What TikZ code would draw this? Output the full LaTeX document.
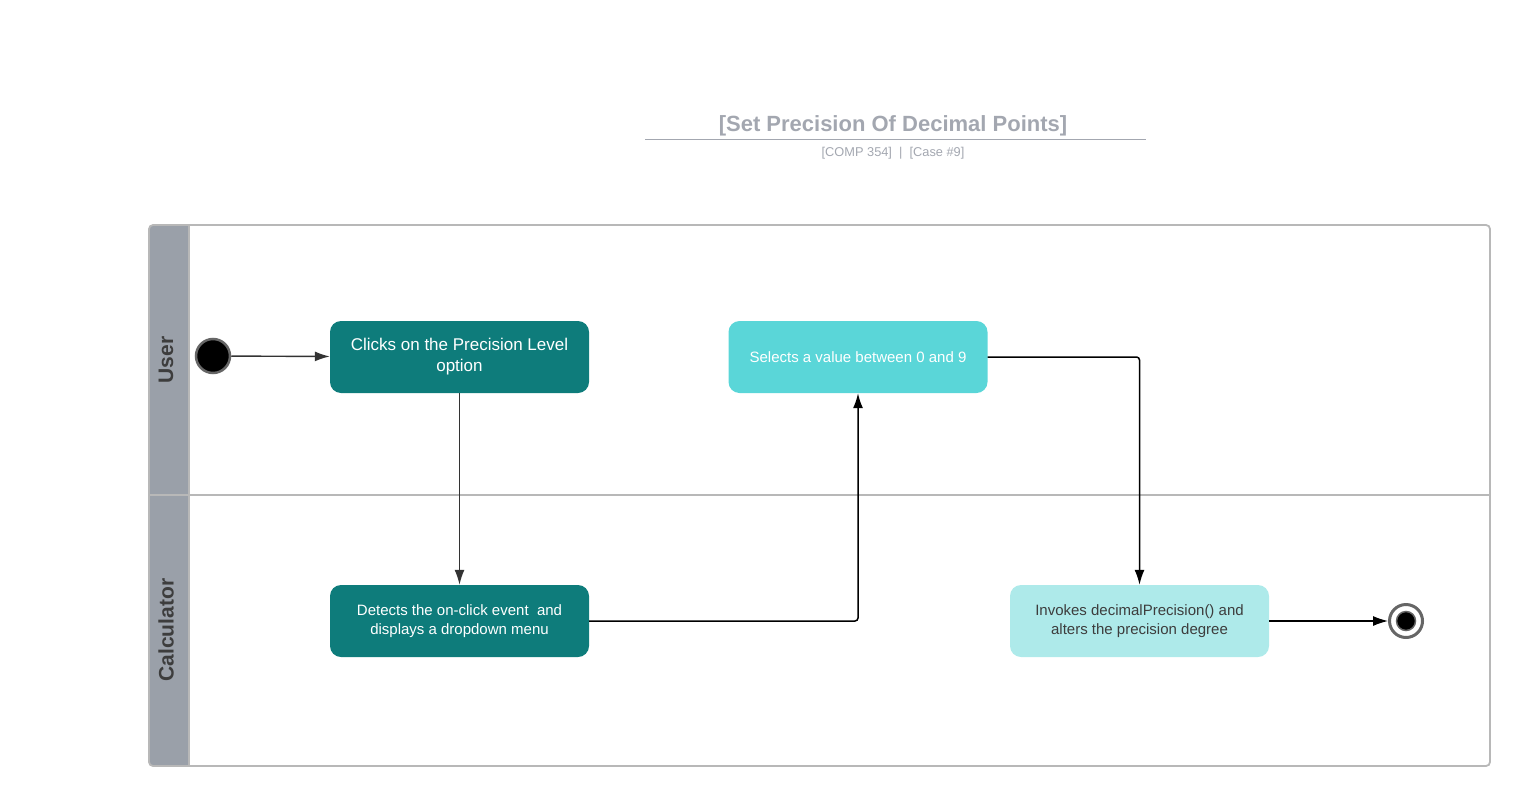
\documentclass[tikz,border=0pt]{standalone}
\usepackage{fontspec}
\setmainfont{Liberation Sans}
\usetikzlibrary{arrows.meta}
\definecolor{teal1}{HTML}{0E7C7B}
\definecolor{teal2}{HTML}{5AD6D8}
\definecolor{teal3}{HTML}{AEEAEA}
\definecolor{hdr}{HTML}{9AA0A9}
\definecolor{poolline}{HTML}{B8B8B8}
\definecolor{ttl}{HTML}{A3A7B0}
\definecolor{txtdark}{HTML}{3D3D3D}
\tikzset{
  x=1pt,y=-1pt,
  act/.style={rounded corners=11pt,minimum width=259pt,minimum height=72pt,align=center,inner sep=0pt,font=\fontsize{15}{19}\selectfont},
  flow/.style={draw=black,line width=1.5pt,-{Latex[length=15pt,width=10pt]},rounded corners=3pt},
  lanelabel/.style={rotate=90,font=\fontsize{21}{23}\selectfont\bfseries,text=txtdark}
}
\begin{document}
\begin{tikzpicture}
\useasboundingbox (0,0) rectangle (1525,800);
% title
\node (title) at (893,126) {\textcolor{ttl}{\fontsize{22}{26}\selectfont\bfseries [Set Precision Of Decimal Points]}};
\draw[ttl,line width=0.9pt] (645,139) -- (1146,139);
\node (sub) at (893,153) {\textcolor{ttl}{\fontsize{12.8}{15}\selectfont [COMP 354]\ \ |\ \ [Case \#9]}};
% pool
\fill[hdr,rounded corners=4pt] (149,225) -- (189,225) -- (189,766) -- (149,766) -- cycle;
\draw[poolline,line width=1.8pt,rounded corners=4pt] (149,225) rectangle (1490,766);
\draw[poolline,line width=1.8pt] (149,495) -- (1490,495);
\draw[poolline,line width=1.2pt] (189,225) -- (189,766);
\node[lanelabel] (luser) at (166,360) {User};
\node[lanelabel] (lcalc) at (166,630) {Calculator};
% start / end
\node[circle,fill=black,draw=black!60,line width=2.5pt,minimum size=34pt,inner sep=0pt] (start) at (213,356) {};
\node[circle,fill=white,draw=black!60,line width=3pt,minimum size=33pt,inner sep=0pt] (endn) at (1406,621) {};
\node[circle,fill=black,draw=black!60,line width=1.5pt,minimum size=19pt,inner sep=0pt] (endi) at (1406,621) {};
% activities
\node[act,fill=teal1,text=white,font=\fontsize{17}{21}\selectfont] (a) at (459.5,357) {Clicks on the Precision Level\\option};
\node[act,fill=teal2,text=white] (b) at (858,357) {Selects a value between 0 and 9};
\node[act,fill=teal1,text=white] (c) at (459.5,621) {Detects the on-click event\ \ and\\displays a dropdown menu};
\node[act,fill=teal3,text=txtdark] (d) at (1139.5,621) {Invokes decimalPrecision() and\\alters the precision degree};
% flows
\draw[flow,draw=black!80,line width=1.4pt] (start) -- (a);
\draw[flow,draw=black!80,line width=1.4pt] (a) -- (c);
\draw[flow] (c.east) -- (858,621) -- (b.south);
\draw[flow] (b.east) -- (1139.5,357) -- (d.north);
\draw[flow,line width=1.2pt] (d.east) -- (endn.west);
\end{tikzpicture}
\end{document}
